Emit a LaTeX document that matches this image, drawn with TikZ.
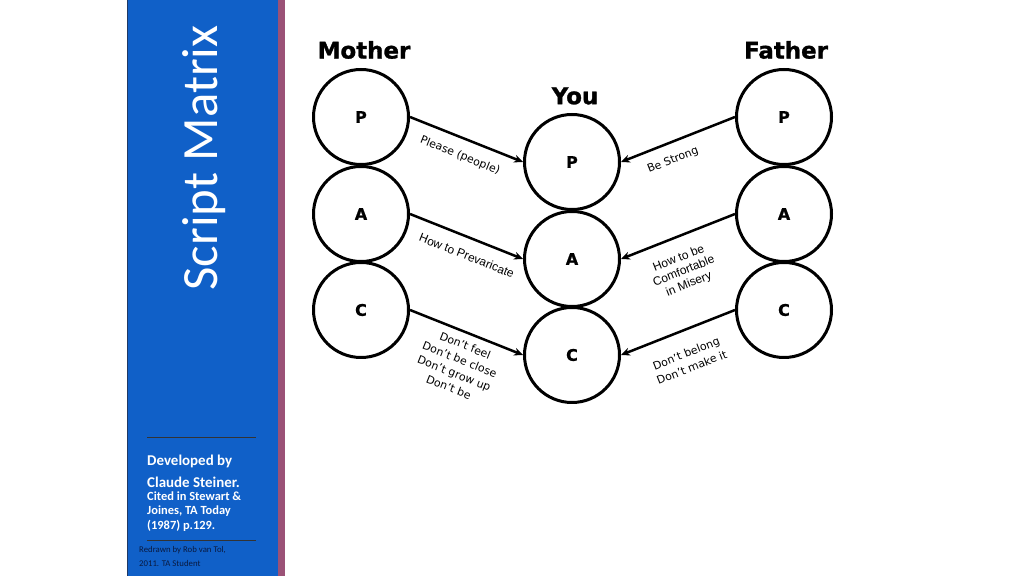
\documentclass[tikz,border=0pt]{standalone}
\usepackage{fontspec}
\setmainfont{Liberation Sans}
\newfontfamily\calibri{Carlito}
\newfontfamily\dejavu{DejaVu Sans}
\newfontfamily\heavy[BoldFeatures={FakeBold=1.2}]{DejaVu Sans}
\usetikzlibrary{arrows.meta}
\definecolor{panelblue}{HTML}{1060C8}
\definecolor{paneledge}{HTML}{9B5277}
\definecolor{panelborder}{HTML}{1F3864}
\definecolor{credittext}{HTML}{0A1A40}
\tikzset{
  ego/.style={draw,circle,line width=3bp,minimum size=95bp,inner sep=0pt,font=\heavy\bfseries\fontsize{16}{18}\selectfont},
  heading/.style={font=\heavy\bfseries\fontsize{23}{25}\selectfont},
  msg/.style={draw=none,sloped,below=4bp,align=center,inner sep=2bp,font=\dejavu\fontsize{11}{15}\selectfont},
  msgarial/.style={msg,font=\fontsize{12}{14}\selectfont},
  script/.style={line width=2.5bp,-{Stealth[length=9bp,width=8bp]}},
  credit/.style={anchor=west,text=white,inner sep=0pt,font=\calibri\bfseries}
}
\begin{document}
\begin{tikzpicture}
  \useasboundingbox (0bp,0bp) rectangle (1024bp,576bp);
  % side panel
  \fill[panelblue] (127bp,0bp) rectangle (278bp,576bp);
  \fill[paneledge] (278bp,0bp) rectangle (285bp,576bp);
  \draw[panelborder,line width=1bp] (127.5bp,0bp) -- (127.5bp,576bp);
  \node (Title) at (204bp,418bp) [rotate=90,text=white,font=\calibri\fontsize{51}{55}\selectfont] {Script Matrix};
  \draw[black!80,line width=1bp] (147bp,138bp) -- (256bp,138bp);
  \node (Dev1) at (147bp,115bp) [credit,font=\calibri\bfseries\fontsize{15}{17}\selectfont] {Developed by};
  \node (Dev2) at (147bp,94bp) [credit,font=\calibri\bfseries\fontsize{15}{17}\selectfont] {Claude Steiner.};
  \node (Cite1) at (147bp,80bp) [credit,font=\calibri\bfseries\fontsize{12.5}{14}\selectfont] {Cited in Stewart \&};
  \node (Cite2) at (147bp,65bp) [credit,font=\calibri\bfseries\fontsize{12.5}{14}\selectfont] {Joines, TA Today};
  \node (Cite3) at (147bp,50bp) [credit,font=\calibri\bfseries\fontsize{12.5}{14}\selectfont] {(1987) p.129.};
  \draw[black!80,line width=1bp] (147bp,35bp) -- (256bp,35bp);
  \node (Red1) at (139bp,26bp) [anchor=west,inner sep=0pt,text=credittext,font=\calibri\fontsize{8.8}{10}\selectfont] {Redrawn by Rob van Tol,};
  \node (Red2) at (139bp,13bp) [anchor=west,inner sep=0pt,text=credittext,font=\calibri\fontsize{8.8}{10}\selectfont] {2011. TA Student};
  % headings
  \node (Mother) at (364bp,526bp) [heading] {Mother};
  \node (Father) at (786bp,526bp) [heading] {Father};
  \node (You) at (575bp,480bp) [heading] {You};
  % ego states
  \node (mP) at (361bp,459bp) [ego] {P};
  \node (mA) at (361bp,362bp) [ego] {A};
  \node (mC) at (361bp,266bp) [ego] {C};
  \node (fP) at (784bp,459bp) [ego] {P};
  \node (fA) at (784bp,362bp) [ego] {A};
  \node (fC) at (784bp,266bp) [ego] {C};
  \node (yP) at (572bp,414bp) [ego] {P};
  \node (yA) at (572bp,317bp) [ego] {A};
  \node (yC) at (572bp,221bp) [ego] {C};
  % messages
  \draw [script] (mP.east) -- (yP.west) node[msg,pos=0.5,below=5bp] {Please (people)};
  \draw [script] (mA.east) -- (yA.west) node[msgarial,pos=0.56,below=6bp] {How to Prevaricate};
  \draw [script] (mC.east) -- (yC.west) node[msg,pos=0.53,below=1bp] {Don’t feel\\Don’t be close\\Don’t grow up\\Don’t be};
  \draw [script] (fP.west) -- (yP.east) node[msg,pos=0.6,below=5bp] {Be Strong};
  \draw [script] (fA.west) -- (yA.east) node[msgarial,pos=0.56,below=8bp] {How to be\\Comfortable\\in Misery};
  \draw [script] (fC.west) -- (yC.east) node[msg,pos=0.5,below=11bp] {Don’t belong\\Don’t make it};
\end{tikzpicture}
\end{document}
